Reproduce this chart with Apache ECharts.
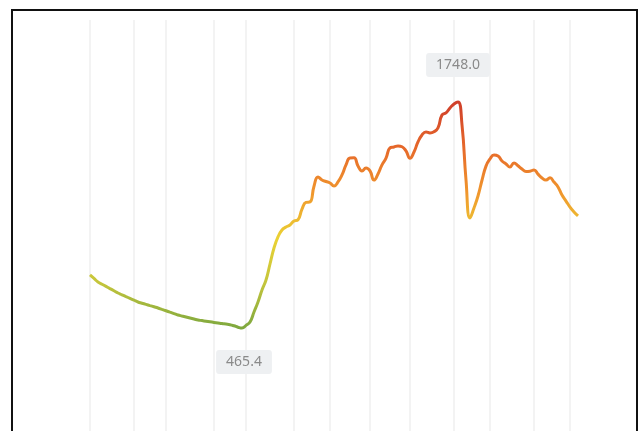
<!DOCTYPE html>
<html>
<head>
<meta charset="utf-8">
<script src="https://cdn.jsdelivr.net/npm/echarts@6/dist/echarts.min.js"></script>
<style>
  html, body { margin: 0; padding: 0; background: #fff; overflow: hidden; }
  #chart { position: absolute; left: 0; top: 0; width: 642px; height: 431px; }
  #frame { position: absolute; left: 11px; top: 9px; width: 623px; height: 460px;
           border: 2px solid #111; pointer-events: none; }
</style>
</head>
<body>
<div id="chart"></div>
<div id="frame"></div>
<script>
const categories = [];
const values = [
  766.2, 746.4, 726.5, 714.0, 701.5, 689.0, 676.6, 664.1, 653.9, 643.6,
  633.4, 623.2, 613.0, 606.2, 599.4, 592.6, 585.8, 578.9, 571.0, 563.1,
  555.1, 547.2, 539.2, 533.5, 527.9, 522.2, 516.5, 510.8, 507.4, 504.0,
  500.6, 497.2, 493.8, 490.4, 487.6, 484.2, 477.9, 470.0, 465.4, 480.2,
  499.5, 556.2, 613.0, 681.1, 737.8, 828.6, 919.4, 981.9, 1021.6, 1038.6,
  1050.0, 1072.7, 1080.0, 1140.1, 1178.2, 1180.8, 1270.0, 1322.4, 1305.3, 1296.8,
  1288.3, 1271.3, 1294.0, 1333.7, 1390.5, 1430.2, 1431.0, 1384.8, 1356.4, 1373.4,
  1357.1, 1304.6, 1339.4, 1391.2, 1429.6, 1486.9, 1492.6, 1498.3, 1493.8, 1469.9,
  1428.7, 1464.2, 1521.0, 1560.7, 1577.7, 1572.1, 1578.9, 1600.4, 1674.2, 1685.6,
  1713.9, 1736.6, 1748.0, 1617.5, 1306.1, 1089.7, 1146.4, 1214.5, 1303.8, 1383.9,
  1424.5, 1447.2, 1441.5, 1413.2, 1396.1, 1379.1, 1401.8, 1385.6, 1367.8, 1353.6,
  1355.2, 1362.1, 1338.7, 1316.7, 1304.9, 1317.5, 1293.2, 1265.6, 1220.2, 1185.7,
  1151.4, 1123.7, 1101.0
];
for (let i = 0; i < values.length; i++) categories.push(String(i + 1));
const gridTickIndices = [0, 11, 19, 31, 39, 51, 60, 70, 80, 91, 100, 111, 120];
const yMin = -119;
const yMax = 2213;
const colorStops = ['#7ea83e', '#c4c53c', '#ebd234', '#f0962d', '#e6682a', '#cf3f2a'];

const chart = echarts.init(document.getElementById('chart'));
chart.setOption({
  animation: false,
  grid: { left: 90, right: 64, top: 20, bottom: 0 },
  xAxis: {
    type: 'category',
    data: categories,
    boundaryGap: false,
    axisLine: { show: false },
    axisTick: { show: false },
    axisLabel: { show: false },
    splitLine: {
      show: true,
      interval: function (idx) { return gridTickIndices.indexOf(idx) >= 0; },
      lineStyle: { color: '#f3f3f3', width: 2 }
    }
  },
  yAxis: {
    type: 'value',
    min: yMin,
    max: yMax,
    show: false,
    splitLine: { show: false }
  },
  visualMap: {
    show: false,
    type: 'continuous',
    dimension: 1,
    min: 465.4,
    max: 1748,
    inRange: { color: colorStops }
  },
  series: [{
    type: 'line',
    data: values,
    smooth: true,
    showSymbol: false,
    lineStyle: { width: 3 },
    markPoint: {
      symbolSize: 0,
      label: {
        show: true,
        color: '#8a8a8a',
        fontSize: 14,
        fontFamily: 'Noto Sans',
        backgroundColor: '#eef0f2',
        padding: [5, 10],
        borderRadius: 3,
        formatter: function (p) { return Number(p.value).toFixed(1); }
      },
      data: [
        { type: 'max', label: { position: 'inside', offset: [0, -37] } },
        { type: 'min', label: { position: 'inside', offset: [2, 34] } }
      ]
    }
  }]
});
</script>
</body>
</html>
